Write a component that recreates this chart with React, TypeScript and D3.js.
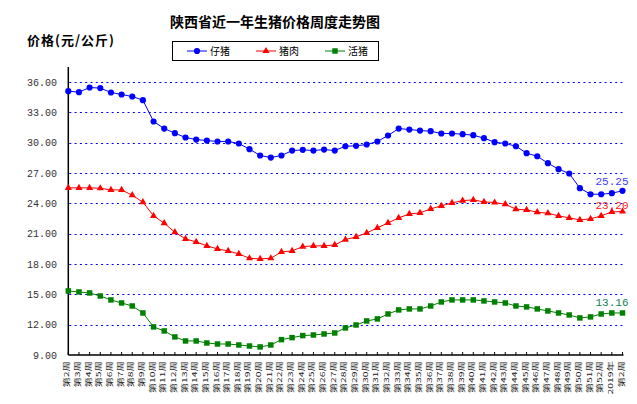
import { useEffect, useRef } from "react";
import * as d3 from "d3";

const weeks = [
  "第2周", "第3周", "第4周", "第5周", "第6周", "第7周", "第8周", "第9周", "第10周", "第11周",
  "第12周", "第13周", "第14周", "第15周", "第16周", "第17周", "第18周", "第19周", "第20周", "第21周",
  "第22周", "第23周", "第24周", "第25周", "第26周", "第27周", "第28周", "第29周", "第30周", "第31周",
  "第32周", "第33周", "第34周", "第35周", "第36周", "第37周", "第38周", "第39周", "第40周", "第41周",
  "第42周", "第43周", "第44周", "第45周", "第46周", "第47周", "第48周", "第49周", "第50周", "第51周",
  "第52周", "2019年", "第2周",
];

const piglet = [
  35.11, 35.01, 35.47, 35.41, 34.98, 34.78, 34.58, 34.22, 32.11, 31.41, 30.95, 30.52, 30.32,
  30.22, 30.13, 30.13, 29.93, 29.37, 28.74, 28.54, 28.74, 29.23, 29.3, 29.23, 29.33, 29.23,
  29.66, 29.7, 29.83, 30.13, 30.72, 31.41, 31.31, 31.21, 31.15, 30.92, 30.92, 30.85, 30.75,
  30.46, 30.06, 29.93, 29.66, 28.97, 28.67, 27.98, 27.39, 26.96, 25.51, 24.91, 24.91, 25.01, 25.25,
];

const pork = [
  25.54, 25.54, 25.54, 25.5, 25.34, 25.34, 24.81, 24.12, 22.77, 22.04, 21.15, 20.49, 20.19,
  19.8, 19.5, 19.3, 19.0, 18.57, 18.51, 18.57, 19.2, 19.3, 19.73, 19.8, 19.8, 19.89,
  20.42, 20.69, 21.08, 21.58, 22.07, 22.57, 22.96, 23.06, 23.46, 23.76, 24.05, 24.28, 24.35,
  24.15, 24.09, 23.92, 23.43, 23.36, 23.13, 23.03, 22.77, 22.57, 22.37, 22.47, 22.77, 23.16, 23.2,
];

const hog = [
  15.34, 15.24, 15.14, 14.84, 14.45, 14.15, 13.85, 13.16, 11.78, 11.38, 10.79, 10.39, 10.39,
  10.19, 10.09, 10.09, 9.99, 9.89, 9.8, 9.99, 10.52, 10.72, 10.92, 10.98, 11.08, 11.18,
  11.68, 11.97, 12.37, 12.57, 13.06, 13.46, 13.56, 13.56, 13.85, 14.25, 14.45, 14.45, 14.45,
  14.35, 14.25, 14.15, 13.85, 13.76, 13.56, 13.36, 13.16, 12.96, 12.67, 12.77, 13.06, 13.16, 13.16,
];

const seriesNames = ["仔猪", "猪肉", "活猪"];
const yTicks = [9, 12, 15, 18, 21, 24, 27, 30, 33, 36];

const W = 637;
const H = 404;
const MONO = "'Liberation Mono', 'DejaVu Sans Mono', monospace";
const CJK = "'Noto Sans CJK SC', sans-serif";

export default function App() {
  const svgRef = useRef<SVGSVGElement>(null);

  useEffect(() => {
    if (!svgRef.current) return;
    const svg = d3.select(svgRef.current);
    svg.selectAll("*").remove();

    const left = 68.3;
    const right = 622.5;
    const top = 67;
    const bottom = 355;

    const x = d3.scalePoint<number>().domain(d3.range(weeks.length)).range([left, right]);
    const y = d3.scaleLinear().domain([9, 37.5]).range([bottom, top]);

    svg.append("rect").attr("width", W).attr("height", H).attr("fill", "#fff");

    // 标题
    svg
      .append("text")
      .attr("x", 275)
      .attr("y", 27)
      .attr("text-anchor", "middle")
      .attr("font-family", CJK)
      .attr("font-weight", 700)
      .attr("font-size", 14)
      .text("陕西省近一年生猪价格周度走势图");

    svg
      .append("text")
      .attr("x", 27)
      .attr("y", 45)
      .attr("font-family", CJK)
      .attr("font-weight", 700)
      .attr("font-size", 13)
      .attr("letter-spacing", 1)
      .text("价格(元/公斤)");

    // 网格线
    svg
      .append("g")
      .selectAll("line")
      .data(yTicks.filter((t) => t > 9))
      .enter()
      .append("line")
      .attr("x1", left + 1)
      .attr("x2", right + 1)
      .attr("y1", (d) => Math.round(y(d)) + 0.5)
      .attr("y2", (d) => Math.round(y(d)) + 0.5)
      .attr("stroke", "#0000FF")
      .attr("stroke-width", 1)
      .attr("stroke-dasharray", "2,3.3");

    // 纵轴
    svg
      .append("line")
      .attr("x1", left)
      .attr("x2", left)
      .attr("y1", top)
      .attr("y2", bottom)
      .attr("stroke", "#000")
      .attr("stroke-width", 1.5);

    svg
      .append("g")
      .selectAll("text")
      .data(yTicks)
      .enter()
      .append("text")
      .attr("x", 57)
      .attr("y", (d) => y(d))
      .attr("dy", "0.35em")
      .attr("text-anchor", "end")
      .attr("font-family", MONO)
      .attr("font-size", 10)
      .attr("fill", "#333")
      .text((d) => d.toFixed(2));

    // 横轴
    svg
      .append("line")
      .attr("x1", left)
      .attr("x2", right + 1)
      .attr("y1", bottom)
      .attr("y2", bottom)
      .attr("stroke", "#000")
      .attr("stroke-width", 1.5);

    svg
      .append("g")
      .selectAll("line")
      .data(d3.range(weeks.length))
      .enter()
      .append("line")
      .attr("x1", (d) => x(d)!)
      .attr("x2", (d) => x(d)!)
      .attr("y1", bottom)
      .attr("y2", bottom - 3)
      .attr("stroke", "#000");

    svg
      .append("g")
      .selectAll("text")
      .data(weeks)
      .enter()
      .append("text")
      .attr("transform", (_, i) => `translate(${x(i)! + 1},361) rotate(-90) scale(1.3,0.85)`)
      .attr("text-anchor", "end")
      .attr("font-family", CJK)
      .attr("font-size", 8)
      .attr("fill", "#222")
      .text((d) => d);

    // 折线
    const series = [
      { name: seriesNames[0], values: piglet, color: "#0000FF", symbol: d3.symbolCircle, size: 30, labelDy: -6, labelColor: "#4040FF" },
      { name: seriesNames[1], values: pork, color: "#FF0000", symbol: d3.symbolTriangle, size: 22, labelDy: -3, labelColor: "#FF2020" },
      { name: seriesNames[2], values: hog, color: "#008000", symbol: d3.symbolSquare, size: 30, labelDy: -7, labelColor: "#108050" },
    ];

    const line = d3
      .line<number>()
      .x((_, i) => x(i)!)
      .y((d) => y(d));

    series.forEach((s) => {
      const g = svg.append("g");
      g.append("path")
        .attr("d", line(s.values))
        .attr("fill", "none")
        .attr("stroke", s.color)
        .attr("stroke-width", 1);
      g.selectAll("path.m")
        .data(s.values)
        .enter()
        .append("path")
        .attr("class", "m")
        .attr("d", d3.symbol().type(s.symbol).size(s.size)())
        .attr("transform", (d, i) => `translate(${x(i)},${y(d)})`)
        .attr("fill", s.color);
      const last = s.values.length - 1;
      g.append("text")
        .attr("x", x(last)! + 6)
        .attr("y", y(s.values[last]) + s.labelDy)
        .attr("text-anchor", "end")
        .attr("font-family", MONO)
        .attr("font-size", 11)
        .attr("fill", s.labelColor)
        .text(s.values[last].toFixed(2));
    });

    // 图例
    const legend = svg.append("g");
    legend
      .append("rect")
      .attr("x", 172.5)
      .attr("y", 41.5)
      .attr("width", 206)
      .attr("height", 19)
      .attr("fill", "#fff")
      .attr("stroke", "#000");
    const legendX = [187, 256, 325];
    series.forEach((s, i) => {
      const lx = legendX[i];
      legend
        .append("line")
        .attr("x1", lx)
        .attr("x2", lx + 20)
        .attr("y1", 51)
        .attr("y2", 51)
        .attr("stroke", s.color);
      legend
        .append("path")
        .attr("d", d3.symbol().type(s.symbol).size(s.size)())
        .attr("transform", `translate(${lx + 10},51)`)
        .attr("fill", s.color);
      legend
        .append("text")
        .attr("x", lx + 23)
        .attr("y", 51)
        .attr("dy", "0.35em")
        .attr("font-family", CJK)
        .attr("font-size", 10)
        .text(s.name);
    });
  }, []);

  return (
    <svg
      ref={svgRef}
      width={W}
      height={H}
      viewBox={`0 0 ${W} ${H}`}
      style={{ position: "absolute", left: 0, top: 0, display: "block" }}
    />
  );
}
